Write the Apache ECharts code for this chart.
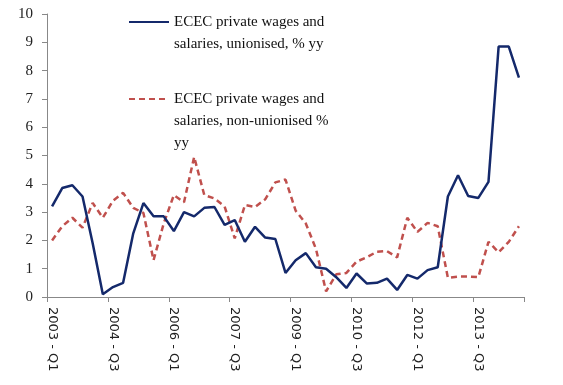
<!DOCTYPE html>
<html><head><meta charset="utf-8">
<script src="https://cdn.jsdelivr.net/npm/echarts@6/dist/echarts.min.js"></script>
<style>html,body{margin:0;padding:0;background:#fff}#c{width:563px;height:385px}</style>
</head><body><div id="c"></div>
<script>
const categories = [
  '2003 - Q1','2003 - Q2','2003 - Q3','2003 - Q4',
  '2004 - Q1','2004 - Q2','2004 - Q3','2004 - Q4',
  '2005 - Q1','2005 - Q2','2005 - Q3','2005 - Q4',
  '2006 - Q1','2006 - Q2','2006 - Q3','2006 - Q4',
  '2007 - Q1','2007 - Q2','2007 - Q3','2007 - Q4',
  '2008 - Q1','2008 - Q2','2008 - Q3','2008 - Q4',
  '2009 - Q1','2009 - Q2','2009 - Q3','2009 - Q4',
  '2010 - Q1','2010 - Q2','2010 - Q3','2010 - Q4',
  '2011 - Q1','2011 - Q2','2011 - Q3','2011 - Q4',
  '2012 - Q1','2012 - Q2','2012 - Q3','2012 - Q4',
  '2013 - Q1','2013 - Q2','2013 - Q3','2013 - Q4',
  '2014 - Q1','2014 - Q2','2014 - Q3'
];
const unionised = [
  3.2, 3.85, 3.95, 3.55, 1.9, 0.1, 0.35, 0.5, 2.25, 3.32,
  2.85, 2.85, 2.33, 3.0, 2.85, 3.15, 3.18, 2.55, 2.72, 1.95,
  2.48, 2.1, 2.05, 0.85, 1.3, 1.55, 1.05, 1.0, 0.7, 0.32,
  0.83, 0.48, 0.5, 0.65, 0.25, 0.78, 0.65, 0.95, 1.05, 3.55,
  4.3, 3.57, 3.5, 4.07, 8.85, 8.85, 7.75
];
const nonUnionised = [
  2.0, 2.5, 2.8, 2.45, 3.32, 2.8, 3.4, 3.68, 3.15, 2.97,
  1.3, 2.6, 3.6, 3.35, 4.95, 3.6, 3.48, 3.2, 2.07, 3.25,
  3.18, 3.45, 4.05, 4.15, 3.05, 2.6, 1.7, 0.2, 0.8, 0.85,
  1.25, 1.4, 1.6, 1.62, 1.4, 2.8, 2.3, 2.62, 2.5, 0.68,
  0.72, 0.72, 0.7, 1.95, 1.58, 1.95, 2.5
];
const seriesNames = [
  'ECEC private wages and salaries, unionised, % yy',
  'ECEC private wages and salaries, non-unionised % yy'
];
const legendLines = [
  ['ECEC private wages and', 'salaries, unionised, % yy'],
  ['ECEC private wages and', 'salaries, non-unionised %', 'yy']
];
const yMin = 0, yMax = 10, yStep = 1;

// Prepend blank lines so the first text line is centred on the legend line sample
function legendText(name) {
  const lines = legendLines[seriesNames.indexOf(name)];
  const pad = new Array(lines.length - 1).fill(' ');
  return pad.concat(lines).join('\n');
}
const legendBase = {
  orient: 'vertical', left: 128, padding: 0, itemGap: 0,
  itemWidth: 40, itemHeight: 14, selectedMode: false,
  itemStyle: { opacity: 0 },
  formatter: legendText,
  textStyle: { fontFamily: 'Liberation Serif', fontSize: 15, color: '#111', lineHeight: 22 }
};

const chart = echarts.init(document.getElementById('c'), null, { renderer: 'canvas' });
chart.setOption({
  animation: false,
  backgroundColor: '#fff',
  grid: { left: 47, right: 39, top: 14, bottom: 88, containLabel: false },
  legend: [
    Object.assign({}, legendBase, { data: [seriesNames[0]], top: -11 }),
    Object.assign({}, legendBase, { data: [seriesNames[1]], top: 44 })
  ],
  xAxis: {
    type: 'category', data: categories, boundaryGap: true,
    axisLine: { lineStyle: { color: '#888', width: 1 } },
    axisTick: { show: true, interval: 5, length: 5, lineStyle: { color: '#888' } },
    axisLabel: { interval: 5, rotate: -90, margin: 10, fontFamily: 'DejaVu Sans', fontSize: 13, color: '#222' },
    splitLine: { show: false }
  },
  yAxis: {
    type: 'value', min: yMin, max: yMax, interval: yStep,
    axisLine: { show: true, lineStyle: { color: '#888', width: 1 } },
    axisTick: { show: true, length: 5, lineStyle: { color: '#888' } },
    axisLabel: { margin: 14, fontFamily: 'Liberation Serif', fontSize: 15, color: '#222' },
    splitLine: { show: false }
  },
  series: [
    { name: seriesNames[1], type: 'line', data: nonUnionised, symbol: 'none',
      color: '#c0504d', lineStyle: { color: '#c0504d', width: 2.5, type: [6, 4] } },
    { name: seriesNames[0], type: 'line', data: unionised, symbol: 'none',
      color: '#14296b', lineStyle: { color: '#14296b', width: 2.5 } }
  ]
});
</script>
</body></html>
